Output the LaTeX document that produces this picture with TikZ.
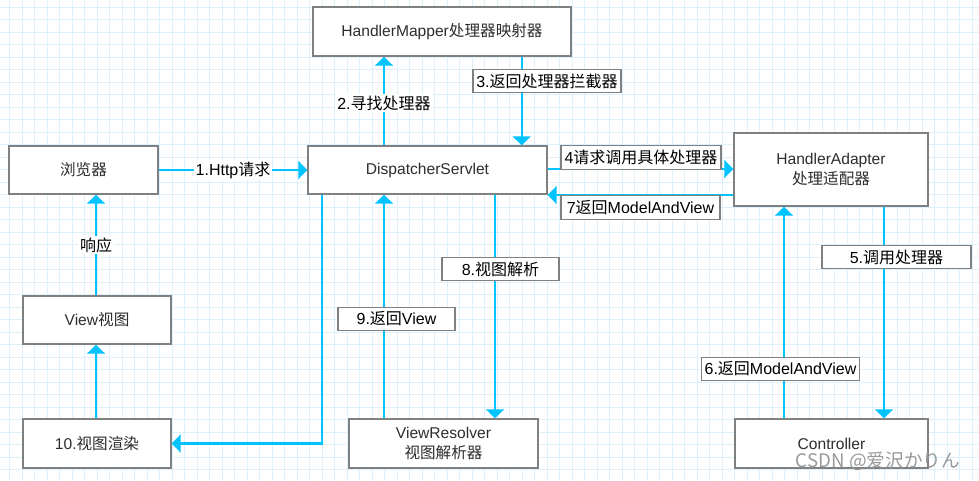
\documentclass[tikz,border=0pt]{standalone}
\usepackage{fontspec}
\setmainfont{Liberation Sans}
\newfontfamily\zh{Noto Sans CJK SC}
\newfontfamily\jp{Noto Sans CJK JP}
\usetikzlibrary{arrows.meta}
\definecolor{flowcyan}{RGB}{0,195,255}
\definecolor{gridblue}{RGB}{222,240,251}
\definecolor{boxgray}{RGB}{128,128,128}
\definecolor{textdark}{RGB}{45,45,45}

\begin{document}
\begin{tikzpicture}[x=0.75pt, y=-0.75pt,
  box/.style={draw=boxgray, line width=1pt, fill=white, text=textdark, align=center, inner sep=0pt, font=\fontsize{11.7}{15}\selectfont},
  tag/.style={draw=boxgray, line width=0.9pt, fill=white, inner xsep=2.5pt, inner ysep=0pt, minimum height=17.5pt, font=\fontsize{12}{14}\selectfont},
  plain/.style={fill=white, inner sep=1.5pt, font=\fontsize{12}{14}\selectfont},
  flow/.style={draw=flowcyan, line width=1.7pt, -{Triangle[width=13.5pt,length=6.8pt]}},
  gridline/.style={draw=gridblue, line width=0.9pt}]
  \useasboundingbox (0,0) rectangle (979,481);

  % Background grid (draw FIRST)
  \fill[white] (0,0) rectangle (979,481);
  \foreach \i in {0,...,77} \draw[gridline] (9.6+12.5*\i,0) -- (9.6+12.5*\i,481);
  \foreach \j in {0,...,37} \draw[gridline] (0,7.2+12.5*\j) -- (979,7.2+12.5*\j);

  % Components
  \node[box, minimum width=193.5pt, minimum height=36.75pt] (hm) at (442,31.5) {HandlerMapper{\zh 处理器映射器}};
  \node[box, minimum width=111.75pt, minimum height=36pt] (browser) at (83.5,170) {{\zh 浏览器}};
  \node[box, minimum width=179.25pt, minimum height=36pt] (ds) at (427.5,170) {DispatcherServlet};
  \node[box, minimum width=145.5pt, minimum height=54.75pt] (ha) at (831,169.5) {HandlerAdapter\\{\zh 处理适配器}};
  \node[box, minimum width=111pt, minimum height=36pt] (view) at (97,320) {View{\zh 视图}};
  \node[box, minimum width=111pt, minimum height=36.75pt] (render) at (97,443.5) {10.{\zh 视图渲染}};
  \node[box, minimum width=141.75pt, minimum height=36.75pt] (vr) at (443.5,443.5) {ViewResolver\\{\zh 视图解析器}};
  \node[box, minimum width=144.75pt, minimum height=36.75pt] (ctrl) at (831.5,443.5) {Controller};

  % Lanes for the vertical and horizontal flows
  \coordinate (laneV) at (96,0);
  \coordinate (lane10) at (321.7,0);
  \coordinate (lane2) at (384,0);
  \coordinate (lane8) at (495,0);
  \coordinate (lane3) at (521.7,0);
  \coordinate (lane6) at (784,0);
  \coordinate (lane5) at (884,0);
  \coordinate (row4) at (0,169);
  \coordinate (row7) at (0,195);

  % Request path
  \draw[flow] (browser.east) -- node[plain] (l1) {1.Http{\zh 请求}} (ds.west);
  \draw[flow] (lane2 |- ds.north) -- node[plain, yshift=-1.5pt] (l2) {2.{\zh 寻找处理器}} (lane2 |- hm.south);
  \draw[flow] (lane3 |- hm.south) -- (lane3 |- ds.north);
  \node[tag, minimum width=111pt] (l3) at (547,81) {3.{\zh 返回处理器拦截器}};
  \draw[flow] (ds.east |- row4) -- (ha.west |- row4);
  \node[tag, minimum width=120pt] (l4) at (641,157.5) {4{\zh 请求调用具体处理器}};
  \draw[flow] (lane5 |- ha.south) -- (lane5 |- ctrl.north);
  \node[tag, minimum width=111.75pt] (l5) at (896.5,257) {5.{\zh 调用处理器}};
  \draw[flow] (lane6 |- ctrl.north) -- (lane6 |- ha.south);
  \node[tag, minimum width=117.75pt] (l6) at (780.5,369) {6.{\zh 返回}ModelAndView};
  \draw[flow] (ha.west |- row7) -- (ds.east |- row7);
  \node[tag, minimum width=119.25pt] (l7) at (640.5,207.5) {7{\zh 返回}ModelAndView};

  % View resolution and rendering
  \draw[flow] (lane8 |- ds.south) -- (lane8 |- vr.north);
  \node[tag, minimum width=87.75pt] (l8) at (500.5,269) {8.{\zh 视图解析}};
  \draw[flow] (lane2 |- vr.north) -- (lane2 |- ds.south);
  \node[tag, minimum width=87.75pt] (l9) at (396.5,319) {9.{\zh 返回}View};
  \draw[flow] (lane10 |- ds.south) |- (render.east);
  \draw[flow] (laneV |- render.north) -- (laneV |- view.south);
  \draw[flow] (laneV |- view.north) -- node[plain] (lr) {{\zh 响应}} (laneV |- browser.south);

  % Watermark
  \node[text=black!40, font=\jp\fontsize{14}{16}\selectfont] (mark) at (878,461) {CSDN @爱沢かりん};
\end{tikzpicture}
\end{document}
